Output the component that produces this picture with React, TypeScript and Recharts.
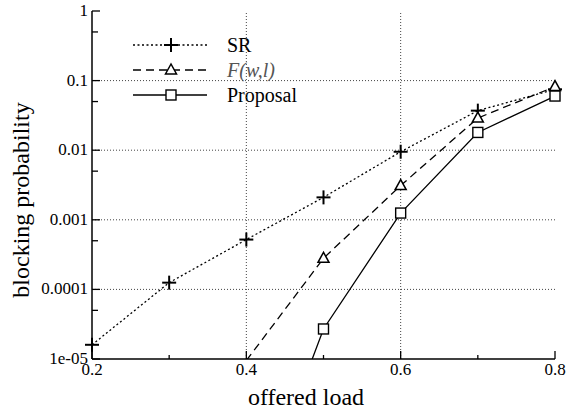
import React from 'react'
import {
  LineChart, Line, XAxis, YAxis, ReferenceLine, Customized,
} from 'recharts'

// offered load values and blocking probabilities
const load = [0.2, 0.3, 0.4, 0.5, 0.6, 0.7, 0.8]
const srVals = [1.6e-5, 1.25e-4, 5.2e-4, 2.1e-3, 9.5e-3, 0.037, 0.075]
const fwlVals = [null, null, 9.5e-6, 2.8e-4, 3.1e-3, 0.029, 0.082]
const propVals = [null, null, 3e-8, 2.7e-5, 1.25e-3, 0.018, 0.06]

const xTicks = [0.2, 0.3, 0.4, 0.5, 0.6, 0.7, 0.8]
const xLabels: Record<string, string> = { '0.2': '0.2', '0.4': '0.4', '0.6': '0.6', '0.8': '0.8' }
const yTicks = [1e-5, 5e-5, 1e-4, 5e-4, 1e-3, 5e-3, 0.01, 0.05, 0.1, 0.5, 1]
const yLabels: Record<string, string> = {
  '0.00001': '1e-05', '0.0001': '0.0001', '0.001': '0.001', '0.01': '0.01', '0.1': '0.1', '1': '1',
}
const xGrid = [0.4, 0.6]
const yGrid = [0.1, 0.01, 0.001, 0.0001]
const Y_MIN = 1e-5

const data = load.map((l, i) => ({ load: l, sr: srVals[i], fwl: fwlVals[i], prop: propVals[i] }))

const FONT = 'Liberation Serif, Times New Roman, DejaVu Serif, serif'
const txt = { fontFamily: FONT }

function yKey(v: number) {
  return v < 5e-5 ? '0.00001' : String(v)
}

const BottomTick = ({ x, y, payload }: any) => {
  const lab = xLabels[String(payload.value)]
  return (
    <g>
      <line x1={x} y1={y} x2={x} y2={y - (lab ? 8 : 4)} stroke="#000" strokeWidth={1.3} />
      {lab && (
        <text x={x} y={y + 16} textAnchor="middle" style={txt} fontSize={17} fill="#000">{lab}</text>
      )}
    </g>
  )
}

const TopTick = ({ x, y, payload }: any) => {
  const lab = xLabels[String(payload.value)]
  return <line x1={x} y1={y} x2={x} y2={y + (lab ? 8 : 4)} stroke="#000" strokeWidth={1.3} />
}

const LeftTick = ({ x, y, payload }: any) => {
  const lab = yLabels[yKey(payload.value)]
  return (
    <g>
      <line x1={x} y1={y} x2={x + (lab ? 8 : 6)} y2={y} stroke="#000" strokeWidth={1.3} />
      {lab && (
        <text x={x - 4} y={y + 5} textAnchor="end" style={txt} fontSize={17} fill="#000">{lab}</text>
      )}
    </g>
  )
}

const RightTick = ({ x, y, payload }: any) => {
  const lab = yLabels[yKey(payload.value)]
  return <line x1={x} y1={y} x2={x - (lab ? 8 : 6)} y2={y} stroke="#000" strokeWidth={1.3} />
}

// points below the plotted range are not drawn (line still runs to the border)
const hidden = (cx: any, cy: any, value: any) =>
  cx == null || cy == null || (typeof value === 'number' && value < Y_MIN)

const PlusDot = ({ cx, cy, value }: any) => {
  if (hidden(cx, cy, value)) return null
  return (
    <g>
      <line x1={cx - 7} y1={cy} x2={cx + 7} y2={cy} stroke="#000" strokeWidth={2} />
      <line x1={cx} y1={cy - 7} x2={cx} y2={cy + 7} stroke="#000" strokeWidth={2} />
    </g>
  )
}

const TriDot = ({ cx, cy, value }: any) => {
  if (hidden(cx, cy, value)) return null
  return (
    <polygon
      points={`${cx},${cy - 6} ${cx - 5.5},${cy + 4} ${cx + 5.5},${cy + 4}`}
      fill="#fff" stroke="#000" strokeWidth={1.5}
    />
  )
}

const SqDot = ({ cx, cy, value }: any) => {
  if (hidden(cx, cy, value)) return null
  return <rect x={cx - 5} y={cy - 5} width={10} height={10} fill="#fff" stroke="#000" strokeWidth={1.4} />
}

const legendRows = [
  { name: 'SR', dash: '2 2.5', Dot: PlusDot, italic: false },
  { name: 'F(w,l)', dash: '8 5', Dot: TriDot, italic: true },
  { name: 'Proposal', dash: undefined, Dot: SqDot, italic: false },
]

const LegendBox = () => (
  <g transform="translate(120 30)">
    {legendRows.map((r, i) => {
      const y = 15 + i * 25
      return (
        <g key={r.name}>
          <line x1={13} y1={y} x2={87} y2={y} stroke="#000" strokeWidth={1.3} strokeDasharray={r.dash} />
          <r.Dot cx={51} cy={y} />
          <text
            x={107} y={y + 7} style={txt} fontSize={20}
            fontStyle={r.italic ? 'italic' : 'normal'} fill={r.italic ? '#555' : '#000'}
          >
            {r.name}
          </text>
        </g>
      )
    })}
  </g>
)

const AxisTitles = () => (
  <g fontSize={24} fill="#000">
    <text x={306} y={405} textAnchor="middle" style={txt}>offered load</text>
    <text x={29} y={200} textAnchor="middle" style={txt} transform="rotate(-90 29 200)">blocking probability</text>
  </g>
)

export default function App() {
  return (
    <div style={{ position: 'absolute', left: 0, top: 0, background: '#fff', fontFamily: FONT }}>
      <LineChart width={567} height={414} data={data} margin={{ top: 11, right: 12, left: 0, bottom: 0 }}>
        <XAxis
          dataKey="load" type="number" domain={[0.2, 0.8]} ticks={xTicks} interval={0}
          height={55} tickSize={0} tickMargin={0} tickLine={false}
          axisLine={{ stroke: '#000', strokeWidth: 1.5 }} tick={<BottomTick />}
        />
        <XAxis
          xAxisId="top" orientation="top" dataKey="load" type="number" domain={[0.2, 0.8]}
          ticks={xTicks} interval={0} height={0} tickSize={0} tickMargin={0} tickLine={false}
          axisLine={{ stroke: '#000', strokeWidth: 1.5 }} tick={<TopTick />}
        />
        <YAxis
          type="number" scale="log" domain={[Y_MIN, 1]} allowDataOverflow ticks={yTicks} interval={0}
          width={92} tickSize={0} tickMargin={0} tickLine={false}
          axisLine={{ stroke: '#000', strokeWidth: 1.5 }} tick={<LeftTick />}
        />
        <YAxis
          yAxisId="right" orientation="right" type="number" scale="log" domain={[Y_MIN, 1]}
          ticks={yTicks} interval={0} width={0} tickSize={0} tickMargin={0} tickLine={false}
          axisLine={{ stroke: '#000', strokeWidth: 1.5 }} tick={<RightTick />}
        />
        {xGrid.map((v) => (
          <ReferenceLine key={'x' + v} x={v} stroke="#444" strokeWidth={1} strokeDasharray="1 2" />
        ))}
        {yGrid.map((v) => (
          <ReferenceLine key={'y' + v} y={v} stroke="#444" strokeWidth={1} strokeDasharray="1 2" />
        ))}
        <Line
          yAxisId="right" dataKey="sr" stroke="#000" strokeWidth={1.3} strokeDasharray="2 2.5"
          dot={<PlusDot />} activeDot={false} isAnimationActive={false}
        />
        <Line
          dataKey="fwl" stroke="#000" strokeWidth={1.3} strokeDasharray="8 5"
          dot={<TriDot />} activeDot={false} isAnimationActive={false}
        />
        <Line
          dataKey="prop" stroke="#000" strokeWidth={1.3}
          dot={<SqDot />} activeDot={false} isAnimationActive={false}
        />
        <Customized component={<LegendBox />} />
        <Customized component={<AxisTitles />} />
      </LineChart>
    </div>
  )
}
